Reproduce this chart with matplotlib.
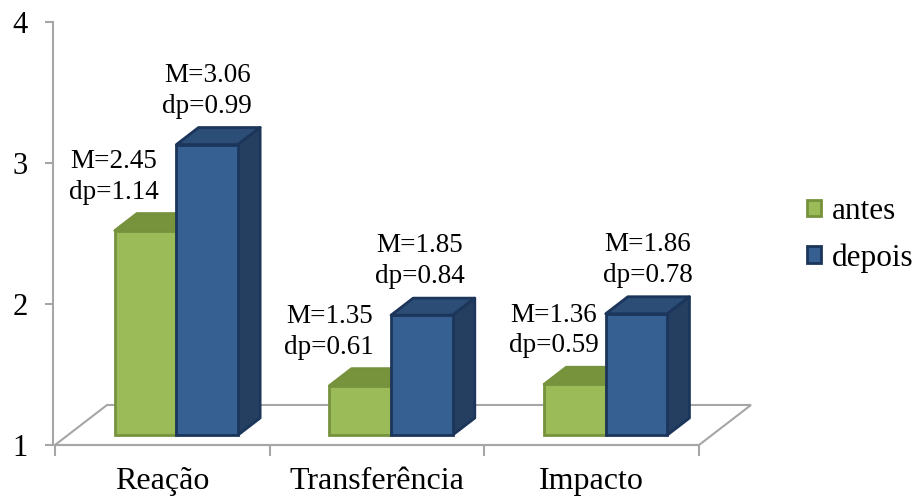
import matplotlib.pyplot as plt
from matplotlib.patches import Polygon, Patch

plt.rcParams['font.family'] = ['Liberation Serif', 'DejaVu Serif']

# dados
categorias = ['Reação', 'Transferência', 'Impacto']
series = ['antes', 'depois']
medias_antes = [2.45, 1.35, 1.36]
medias_depois = [3.06, 1.85, 1.86]
dp_antes = [1.14, 0.61, 0.59]
dp_depois = [0.99, 0.84, 0.78]
y_ticks = [1, 2, 3, 4]

# cores (frente, topo, lateral, contorno)
CORES = {
    'antes': ('#9BBB59', '#77933C', '#6A8434', '#76923C'),
    'depois': ('#376092', '#2C4D75', '#243F60', '#1C355A'),
}
GRID_COLOR = '#A6A6A6'

# geometria em pixels (figura 920x500)
W, H = 920, 500
AX_L, AX_R, AX_T, AX_B = 55, 699, 22, 445
PX_X = (AX_R - AX_L) / 3.0       # pixels por categoria
PX_Y = (AX_B - AX_T) / 3.0       # pixels por unidade
FLOOR_DX, FLOOR_DY = 52, 40       # profundidade do piso
BAR_D0, BAR_D1 = 0.25, 0.675      # frente e fundo das barras (fração do piso)
BAR_W = 0.287
BAR_LEFT = [-0.282, 0.005]
# deslocamento horizontal dos rótulos (px) em relação ao centro da face frontal
LABEL_DX = [[-32, 0], [-31, -2], [-21, 11]]


def depth(f):
    return FLOOR_DX * f / PX_X, FLOOR_DY * f / PX_Y


fig = plt.figure(figsize=(W / 100, H / 100), dpi=100)
ax = fig.add_axes([AX_L / W, 1 - AX_B / H, (AX_R - AX_L) / W, (AX_B - AX_T) / H])
ax.set_xlim(-0.5, 2.5)
ax.set_ylim(1, 4)

# piso
fx, fy = depth(1.0)
floor = Polygon([(-0.5, 1), (2.5, 1), (2.5 + fx, 1 + fy), (-0.5 + fx, 1 + fy)],
                closed=True, facecolor='white', edgecolor=GRID_COLOR, lw=1.5,
                zorder=1, clip_on=False)
ax.add_patch(floor)

x0, y0 = depth(BAR_D0)
x1, y1 = depth(BAR_D1)

for i, cat in enumerate(categorias):
    for j, (nome, medias, dps) in enumerate([('antes', medias_antes, dp_antes),
                                             ('depois', medias_depois, dp_depois)]):
        v = medias[i]
        frente, topo, lado, borda = CORES[nome]
        left = i + BAR_LEFT[j]
        z = 3 + 2 * i + j
        # face frontal
        ax.bar(left + x0, v - 1, bottom=1 + y0, width=BAR_W, align='edge',
               color=frente, edgecolor=borda, linewidth=2.0, zorder=z + 0.2,
               clip_on=False)
        # topo
        ax.add_patch(Polygon([(left + x0, v + y0), (left + BAR_W + x0, v + y0),
                              (left + BAR_W + x1, v + y1), (left + x1, v + y1)],
                             closed=True, facecolor=topo, edgecolor=borda, lw=2.0,
                             joinstyle='round', zorder=z + 0.1, clip_on=False))
        # lateral
        ax.add_patch(Polygon([(left + BAR_W + x0, 1 + y0), (left + BAR_W + x1, 1 + y1),
                              (left + BAR_W + x1, v + y1), (left + BAR_W + x0, v + y0)],
                             closed=True, facecolor=lado, edgecolor=borda, lw=2.0,
                             joinstyle='round', zorder=z + 0.1, clip_on=False))
        # rótulo
        ax.annotate(f'M={v:.2f}\ndp={dps[i]:.2f}',
                    xy=(left + BAR_W / 2 + x0, v + y1),
                    xytext=(LABEL_DX[i][j] * 0.72, 9 * 0.72),
                    textcoords='offset points', ha='center', va='bottom',
                    fontsize=19.5, linespacing=1.3, zorder=20)

# eixos
for s in ['top', 'right']:
    ax.spines[s].set_visible(False)
ax.spines['left'].set_color(GRID_COLOR)
ax.spines['bottom'].set_color(GRID_COLOR)
ax.spines['left'].set_linewidth(1.5)
ax.spines['bottom'].set_linewidth(1.5)
ax.spines['left'].set_position(('data', -0.51))

ax.set_yticks(y_ticks)
ax.set_yticklabels([str(t) for t in y_ticks])
ax.tick_params(axis='y', length=6, width=1.5, color=GRID_COLOR, pad=12,
               labelsize=22)

ax.set_xticks(range(len(categorias)))
ax.set_xticklabels(categorias)
ax.set_xticks([-0.5, 0.5, 1.5, 2.5], minor=True)
ax.tick_params(axis='x', which='major', length=0, pad=16, labelsize=23)
ax.tick_params(axis='x', which='minor', length=8, width=1.5, color=GRID_COLOR)

# legenda
handles = [Patch(facecolor=CORES[s][0], edgecolor=CORES[s][3], lw=2.0) for s in series]
fig.legend(handles, series, loc='center left', bbox_to_anchor=(807 / W, 1 - 235 / H),
           frameon=False, fontsize=22.5, handlelength=0.45, handleheight=0.45,
           handletextpad=0.35, labelspacing=0.55, borderpad=0, borderaxespad=0)

fig.savefig('out.png', dpi=100, facecolor='white')
